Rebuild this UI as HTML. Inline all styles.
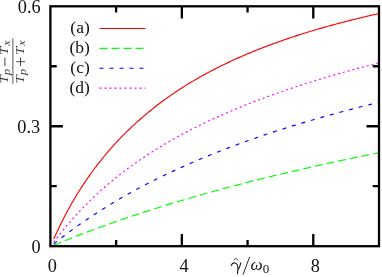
<!DOCTYPE html>
<html><head><meta charset="utf-8"><title>plot</title>
<style>
html,body{margin:0;padding:0;background:#fff;}
body{width:382px;height:277px;overflow:hidden;font-family:"Liberation Serif",serif;}
svg{display:block;will-change:transform;opacity:0.999;}
text{font-family:"Liberation Serif",serif;fill:#111;}
</style></head><body>
<svg width="382" height="277" viewBox="0 0 382 277">
<rect width="382" height="277" fill="#fff"/>
<g transform="translate(0,0.45)">
<path d="M53.72 238.57 L55.33 235.00 L56.97 231.43 L58.61 227.94 L60.26 224.52 L61.90 221.24 L63.54 218.03 L65.19 214.88 L66.83 211.79 L68.47 208.77 L70.12 205.80 L71.76 202.89 L73.40 200.03 L75.05 197.24 L76.69 194.53 L78.33 191.87 L79.97 189.27 L81.62 186.71 L83.26 184.20 L84.90 181.73 L86.55 179.31 L88.19 176.93 L89.83 174.60 L91.47 172.30 L93.12 170.05 L94.76 167.83 L96.40 165.65 L98.05 163.51 L99.69 161.41 L101.33 159.34 L102.98 157.30 L104.62 155.30 L106.26 153.33 L107.91 151.40 L109.55 149.49 L111.19 147.61 L112.83 145.77 L114.48 143.95 L116.12 142.16 L117.76 140.40 L119.41 138.66 L121.05 136.96 L122.69 135.27 L124.33 133.62 L125.98 131.98 L127.62 130.37 L129.26 128.79 L130.91 127.23 L132.55 125.69 L134.19 124.17 L135.84 122.68 L137.48 121.20 L139.12 119.75 L140.76 118.30 L142.41 116.87 L144.05 115.45 L145.69 114.06 L147.34 112.68 L148.98 111.32 L150.62 109.98 L152.27 108.66 L153.91 107.35 L155.55 106.07 L157.19 104.79 L158.84 103.54 L160.48 102.30 L162.12 101.07 L163.77 99.86 L165.41 98.67 L167.05 97.49 L168.70 96.33 L170.34 95.17 L171.98 94.04 L173.62 92.92 L175.27 91.81 L176.91 90.71 L178.55 89.63 L180.20 88.56 L181.84 87.50 L183.48 86.45 L185.13 85.42 L186.77 84.40 L188.41 83.39 L190.06 82.39 L191.70 81.40 L193.34 80.43 L194.98 79.46 L196.63 78.51 L198.27 77.57 L199.91 76.63 L201.56 75.71 L203.20 74.80 L204.84 73.89 L206.49 73.00 L208.13 72.12 L209.77 71.24 L211.41 70.38 L213.06 69.52 L214.70 68.67 L216.34 67.84 L217.99 67.01 L219.63 66.19 L221.27 65.37 L222.92 64.56 L224.56 63.77 L226.20 62.98 L227.84 62.19 L229.49 61.42 L231.13 60.65 L232.77 59.89 L234.42 59.14 L236.06 58.40 L237.70 57.66 L239.34 56.93 L240.99 56.21 L242.63 55.49 L244.27 54.78 L245.92 54.08 L247.56 53.38 L249.20 52.69 L250.85 52.01 L252.49 51.33 L254.13 50.66 L255.78 50.00 L257.42 49.34 L259.06 48.69 L260.70 48.04 L262.35 47.40 L263.99 46.77 L265.63 46.14 L267.28 45.51 L268.92 44.90 L270.56 44.28 L272.20 43.68 L273.85 43.07 L275.49 42.48 L277.13 41.89 L278.78 41.30 L280.42 40.72 L282.06 40.14 L283.71 39.57 L285.35 39.01 L286.99 38.44 L288.64 37.89 L290.28 37.34 L291.92 36.79 L293.56 36.24 L295.21 35.71 L296.85 35.17 L298.49 34.64 L300.14 34.12 L301.78 33.60 L303.42 33.08 L305.06 32.57 L306.71 32.06 L308.35 31.55 L309.99 31.05 L311.64 30.55 L313.28 30.06 L314.92 29.57 L316.57 29.09 L318.21 28.61 L319.85 28.13 L321.50 27.66 L323.14 27.18 L324.78 26.72 L326.42 26.26 L328.07 25.80 L329.71 25.34 L331.35 24.89 L333.00 24.44 L334.64 23.99 L336.28 23.55 L337.92 23.11 L339.57 22.67 L341.21 22.24 L342.85 21.81 L344.50 21.39 L346.14 20.96 L347.78 20.54 L349.43 20.12 L351.07 19.71 L352.71 19.30 L354.36 18.89 L356.00 18.49 L357.64 18.08 L359.28 17.68 L360.93 17.29 L362.57 16.89 L364.21 16.50 L365.86 16.11 L367.50 15.73 L369.14 15.34 L370.79 14.96 L372.43 14.59 L374.07 14.21 L375.71 13.84 L377.36 13.48 L379.00 13.11" fill="none" stroke="#ff0000" stroke-width="1.15"/>
<path d="M53.72 244.82 L55.33 244.15 L56.97 243.48 L58.61 242.81 L60.26 242.14 L61.90 241.47 L63.54 240.81 L65.19 240.14 L66.83 239.49 L68.47 238.83 L70.12 238.18 L71.76 237.52 L73.40 236.88 L75.05 236.23 L76.69 235.59 L78.33 234.95 L79.97 234.31 L81.62 233.68 L83.26 233.06 L84.90 232.44 L86.55 231.82 L88.19 231.20 L89.83 230.58 L91.47 229.97 L93.12 229.36 L94.76 228.75 L96.40 228.15 L98.05 227.55 L99.69 226.95 L101.33 226.35 L102.98 225.75 L104.62 225.16 L106.26 224.57 L107.91 223.98 L109.55 223.39 L111.19 222.81 L112.83 222.23 L114.48 221.65 L116.12 221.07 L117.76 220.50 L119.41 219.93 L121.05 219.36 L122.69 218.80 L124.33 218.24 L125.98 217.69 L127.62 217.13 L129.26 216.58 L130.91 216.03 L132.55 215.48 L134.19 214.94 L135.84 214.40 L137.48 213.85 L139.12 213.32 L140.76 212.78 L142.41 212.24 L144.05 211.71 L145.69 211.18 L147.34 210.65 L148.98 210.12 L150.62 209.60 L152.27 209.08 L153.91 208.56 L155.55 208.04 L157.19 207.52 L158.84 207.00 L160.48 206.49 L162.12 205.98 L163.77 205.47 L165.41 204.96 L167.05 204.46 L168.70 203.95 L170.34 203.45 L171.98 202.95 L173.62 202.45 L175.27 201.96 L176.91 201.46 L178.55 200.97 L180.20 200.48 L181.84 199.99 L183.48 199.50 L185.13 199.02 L186.77 198.53 L188.41 198.05 L190.06 197.57 L191.70 197.09 L193.34 196.62 L194.98 196.14 L196.63 195.67 L198.27 195.19 L199.91 194.72 L201.56 194.26 L203.20 193.80 L204.84 193.33 L206.49 192.87 L208.13 192.42 L209.77 191.96 L211.41 191.50 L213.06 191.05 L214.70 190.60 L216.34 190.15 L217.99 189.70 L219.63 189.25 L221.27 188.81 L222.92 188.36 L224.56 187.92 L226.20 187.48 L227.84 187.04 L229.49 186.60 L231.13 186.17 L232.77 185.73 L234.42 185.30 L236.06 184.87 L237.70 184.44 L239.34 184.01 L240.99 183.58 L242.63 183.16 L244.27 182.73 L245.92 182.31 L247.56 181.89 L249.20 181.47 L250.85 181.05 L252.49 180.63 L254.13 180.22 L255.78 179.80 L257.42 179.39 L259.06 178.98 L260.70 178.57 L262.35 178.16 L263.99 177.75 L265.63 177.35 L267.28 176.94 L268.92 176.54 L270.56 176.14 L272.20 175.73 L273.85 175.34 L275.49 174.94 L277.13 174.54 L278.78 174.15 L280.42 173.75 L282.06 173.36 L283.71 172.97 L285.35 172.58 L286.99 172.19 L288.64 171.80 L290.28 171.42 L291.92 171.03 L293.56 170.65 L295.21 170.27 L296.85 169.89 L298.49 169.51 L300.14 169.13 L301.78 168.75 L303.42 168.38 L305.06 168.00 L306.71 167.63 L308.35 167.26 L309.99 166.89 L311.64 166.52 L313.28 166.15 L314.92 165.78 L316.57 165.42 L318.21 165.05 L319.85 164.69 L321.50 164.33 L323.14 163.97 L324.78 163.61 L326.42 163.25 L328.07 162.89 L329.71 162.53 L331.35 162.18 L333.00 161.82 L334.64 161.47 L336.28 161.12 L337.92 160.77 L339.57 160.42 L341.21 160.07 L342.85 159.72 L344.50 159.38 L346.14 159.03 L347.78 158.69 L349.43 158.34 L351.07 158.00 L352.71 157.66 L354.36 157.32 L356.00 156.98 L357.64 156.64 L359.28 156.30 L360.93 155.97 L362.57 155.64 L364.21 155.31 L365.86 154.98 L367.50 154.65 L369.14 154.32 L370.79 154.00 L372.43 153.67 L374.07 153.35 L375.71 153.02 L377.36 152.70 L379.00 152.38" fill="none" stroke="#00ff00" stroke-width="1.15" stroke-dasharray="7.92 3.96" stroke-dashoffset="0"/>
<path d="M53.72 243.51 L55.33 242.22 L56.97 240.91 L58.61 239.62 L60.26 238.34 L61.90 237.07 L63.54 235.81 L65.19 234.56 L66.83 233.32 L68.47 232.09 L70.12 230.88 L71.76 229.67 L73.40 228.47 L75.05 227.29 L76.69 226.11 L78.33 224.94 L79.97 223.79 L81.62 222.64 L83.26 221.50 L84.90 220.37 L86.55 219.25 L88.19 218.14 L89.83 217.04 L91.47 215.94 L93.12 214.86 L94.76 213.78 L96.40 212.72 L98.05 211.66 L99.69 210.61 L101.33 209.56 L102.98 208.53 L104.62 207.50 L106.26 206.48 L107.91 205.47 L109.55 204.47 L111.19 203.47 L112.83 202.48 L114.48 201.50 L116.12 200.53 L117.76 199.56 L119.41 198.60 L121.05 197.65 L122.69 196.70 L124.33 195.76 L125.98 194.83 L127.62 193.91 L129.26 192.99 L130.91 192.08 L132.55 191.17 L134.19 190.27 L135.84 189.38 L137.48 188.49 L139.12 187.61 L140.76 186.74 L142.41 185.87 L144.05 185.01 L145.69 184.15 L147.34 183.30 L148.98 182.46 L150.62 181.62 L152.27 180.78 L153.91 179.96 L155.55 179.13 L157.19 178.32 L158.84 177.51 L160.48 176.70 L162.12 175.90 L163.77 175.10 L165.41 174.31 L167.05 173.53 L168.70 172.75 L170.34 171.97 L171.98 171.20 L173.62 170.44 L175.27 169.68 L176.91 168.92 L178.55 168.17 L180.20 167.43 L181.84 166.69 L183.48 165.95 L185.13 165.22 L186.77 164.49 L188.41 163.77 L190.06 163.05 L191.70 162.33 L193.34 161.62 L194.98 160.92 L196.63 160.22 L198.27 159.52 L199.91 158.83 L201.56 158.14 L203.20 157.45 L204.84 156.77 L206.49 156.10 L208.13 155.42 L209.77 154.76 L211.41 154.09 L213.06 153.43 L214.70 152.77 L216.34 152.12 L217.99 151.47 L219.63 150.82 L221.27 150.18 L222.92 149.54 L224.56 148.91 L226.20 148.28 L227.84 147.65 L229.49 147.03 L231.13 146.40 L232.77 145.79 L234.42 145.17 L236.06 144.56 L237.70 143.96 L239.34 143.35 L240.99 142.75 L242.63 142.15 L244.27 141.56 L245.92 140.97 L247.56 140.38 L249.20 139.80 L250.85 139.21 L252.49 138.64 L254.13 138.06 L255.78 137.49 L257.42 136.92 L259.06 136.35 L260.70 135.79 L262.35 135.23 L263.99 134.67 L265.63 134.12 L267.28 133.57 L268.92 133.02 L270.56 132.48 L272.20 131.94 L273.85 131.41 L275.49 130.87 L277.13 130.34 L278.78 129.81 L280.42 129.29 L282.06 128.76 L283.71 128.24 L285.35 127.72 L286.99 127.21 L288.64 126.70 L290.28 126.18 L291.92 125.68 L293.56 125.17 L295.21 124.67 L296.85 124.17 L298.49 123.67 L300.14 123.17 L301.78 122.68 L303.42 122.19 L305.06 121.70 L306.71 121.21 L308.35 120.73 L309.99 120.25 L311.64 119.77 L313.28 119.29 L314.92 118.82 L316.57 118.34 L318.21 117.87 L319.85 117.40 L321.50 116.94 L323.14 116.47 L324.78 116.01 L326.42 115.55 L328.07 115.09 L329.71 114.64 L331.35 114.18 L333.00 113.73 L334.64 113.28 L336.28 112.84 L337.92 112.39 L339.57 111.95 L341.21 111.50 L342.85 111.06 L344.50 110.63 L346.14 110.19 L347.78 109.76 L349.43 109.32 L351.07 108.89 L352.71 108.47 L354.36 108.04 L356.00 107.61 L357.64 107.19 L359.28 106.77 L360.93 106.35 L362.57 105.93 L364.21 105.52 L365.86 105.10 L367.50 104.69 L369.14 104.28 L370.79 103.87 L372.43 103.47 L374.07 103.06 L375.71 102.66 L377.36 102.26 L379.00 101.86" fill="none" stroke="#0000ff" stroke-width="1.15" stroke-dasharray="3.96 5.94" stroke-dashoffset="0"/>
<path d="M53.72 241.69 L55.33 239.55 L56.97 237.41 L58.61 235.29 L60.26 233.21 L61.90 231.16 L63.54 229.14 L65.19 227.15 L66.83 225.19 L68.47 223.25 L70.12 221.35 L71.76 219.47 L73.40 217.62 L75.05 215.80 L76.69 214.00 L78.33 212.22 L79.97 210.47 L81.62 208.74 L83.26 207.04 L84.90 205.36 L86.55 203.70 L88.19 202.07 L89.83 200.45 L91.47 198.86 L93.12 197.28 L94.76 195.73 L96.40 194.19 L98.05 192.68 L99.69 191.18 L101.33 189.70 L102.98 188.24 L104.62 186.80 L106.26 185.38 L107.91 183.97 L109.55 182.58 L111.19 181.20 L112.83 179.85 L114.48 178.50 L116.12 177.18 L117.76 175.86 L119.41 174.57 L121.05 173.28 L122.69 172.02 L124.33 170.76 L125.98 169.52 L127.62 168.29 L129.26 167.08 L130.91 165.88 L132.55 164.69 L134.19 163.52 L135.84 162.35 L137.48 161.20 L139.12 160.06 L140.76 158.94 L142.41 157.82 L144.05 156.72 L145.69 155.62 L147.34 154.54 L148.98 153.47 L150.62 152.41 L152.27 151.36 L153.91 150.32 L155.55 149.29 L157.19 148.27 L158.84 147.26 L160.48 146.26 L162.12 145.27 L163.77 144.28 L165.41 143.31 L167.05 142.35 L168.70 141.39 L170.34 140.45 L171.98 139.51 L173.62 138.58 L175.27 137.66 L176.91 136.75 L178.55 135.84 L180.20 134.95 L181.84 134.06 L183.48 133.17 L185.13 132.30 L186.77 131.43 L188.41 130.58 L190.06 129.72 L191.70 128.88 L193.34 128.04 L194.98 127.21 L196.63 126.39 L198.27 125.57 L199.91 124.76 L201.56 123.96 L203.20 123.16 L204.84 122.37 L206.49 121.58 L208.13 120.81 L209.77 120.03 L211.41 119.27 L213.06 118.51 L214.70 117.75 L216.34 117.00 L217.99 116.26 L219.63 115.52 L221.27 114.79 L222.92 114.06 L224.56 113.34 L226.20 112.63 L227.84 111.92 L229.49 111.21 L231.13 110.51 L232.77 109.82 L234.42 109.13 L236.06 108.44 L237.70 107.76 L239.34 107.08 L240.99 106.41 L242.63 105.75 L244.27 105.09 L245.92 104.43 L247.56 103.78 L249.20 103.13 L250.85 102.48 L252.49 101.84 L254.13 101.21 L255.78 100.58 L257.42 99.95 L259.06 99.33 L260.70 98.71 L262.35 98.09 L263.99 97.48 L265.63 96.88 L267.28 96.27 L268.92 95.67 L270.56 95.08 L272.20 94.49 L273.85 93.90 L275.49 93.31 L277.13 92.73 L278.78 92.16 L280.42 91.58 L282.06 91.01 L283.71 90.45 L285.35 89.88 L286.99 89.32 L288.64 88.77 L290.28 88.21 L291.92 87.66 L293.56 87.12 L295.21 86.57 L296.85 86.03 L298.49 85.49 L300.14 84.96 L301.78 84.43 L303.42 83.90 L305.06 83.37 L306.71 82.85 L308.35 82.33 L309.99 81.81 L311.64 81.30 L313.28 80.79 L314.92 80.28 L316.57 79.78 L318.21 79.27 L319.85 78.77 L321.50 78.28 L323.14 77.78 L324.78 77.29 L326.42 76.80 L328.07 76.31 L329.71 75.83 L331.35 75.34 L333.00 74.87 L334.64 74.39 L336.28 73.91 L337.92 73.44 L339.57 72.97 L341.21 72.50 L342.85 72.04 L344.50 71.58 L346.14 71.11 L347.78 70.66 L349.43 70.20 L351.07 69.75 L352.71 69.29 L354.36 68.84 L356.00 68.40 L357.64 67.95 L359.28 67.51 L360.93 67.07 L362.57 66.63 L364.21 66.19 L365.86 65.76 L367.50 65.32 L369.14 64.89 L370.79 64.46 L372.43 64.04 L374.07 63.61 L375.71 63.19 L377.36 62.77 L379.00 62.35" fill="none" stroke="#ff00ff" stroke-width="1.15" stroke-dasharray="1.982 2.968" stroke-dashoffset="0"/>
</g>
<g stroke="#000" stroke-width="2.3" fill="none">
<rect x="50.4" y="6.3" width="328.6" height="239.9"/>
<path d="M116.12 246.20 v-6.2 M116.12 6.30 v6.2"/>
<path d="M181.84 246.20 v-12.3 M181.84 6.30 v12.3"/>
<path d="M247.56 246.20 v-6.2 M247.56 6.30 v6.2"/>
<path d="M313.28 246.20 v-12.3 M313.28 6.30 v12.3"/>
<path d="M50.40 186.22 h6.3 M379.00 186.22 h-6.3"/>
<path d="M50.40 126.25 h12.5 M379.00 126.25 h-12.5"/>
<path d="M50.40 66.27 h6.3 M379.00 66.27 h-6.3"/>
</g>
<g font-size="18.3">
<text x="89.8" y="33.10" text-anchor="end" font-size="17.5">(a)</text>
<path d="M99.5 28.50 H145.5" stroke="#ff0000" stroke-width="1.15" fill="none"/>
<text x="89.8" y="52.95" text-anchor="end" font-size="17.5">(b)</text>
<path d="M99.5 48.35 H145.5" stroke="#00ff00" stroke-width="1.15" fill="none" stroke-dasharray="8 4"/>
<text x="89.8" y="72.80" text-anchor="end" font-size="17.5">(c)</text>
<path d="M99.5 68.20 H145.5" stroke="#0000ff" stroke-width="1.15" fill="none" stroke-dasharray="4 6"/>
<text x="89.8" y="92.65" text-anchor="end" font-size="17.5">(d)</text>
<path d="M99.5 88.05 H145.5" stroke="#ff00ff" stroke-width="1.15" fill="none" stroke-dasharray="2 3"/>
<text x="40.6" y="12.9" text-anchor="end">0.6</text>
<text x="40.1" y="132.7" text-anchor="end">0.3</text>
<text x="40.6" y="252.6" text-anchor="end">0</text>
<text x="52.4" y="272.4" text-anchor="middle">0</text>
<text x="184.1" y="272.4" text-anchor="middle">4</text>
<text x="315.3" y="272.4" text-anchor="middle">8</text>
</g>
<!-- x label -->
<g font-size="17.2" font-style="italic">
<path d="M231.3 265.6 C231.9 263.6 233.3 262.7 235 262.9 C237 263.2 238 266 237.9 269.5 L237.5 273.9 M240.8 262.8 C240.1 266 238.9 268.6 237.8 270.6" fill="none" stroke="#1a1a1a" stroke-width="1.05" stroke-linecap="round"/>
<path d="M233.6 260.4 L235.9 258.2 L238.3 260.4" fill="none" stroke="#222" stroke-width="0.8"/>
<path d="M243.0 274.6 L249.7 256.8" fill="none" stroke="#222" stroke-width="0.95"/>
<text x="250.4" y="270.3">ω</text>
<text x="262.7" y="273" font-style="normal" font-size="13">0</text>
</g>
<!-- y label -->
<g transform="translate(0,84) rotate(-90)" font-style="italic" fill="#111" opacity="0.85">
<path d="M0.3 12.9 H45.8" stroke="#222" stroke-width="0.9"/>
<text x="0.4" y="7.9" font-size="12.6" textLength="8.3" lengthAdjust="spacingAndGlyphs">T</text>
<text x="8.8" y="10.4" font-size="10" textLength="6.4" lengthAdjust="spacingAndGlyphs">p</text>
<path d="M18 4.9 H26.5" stroke="#111" stroke-width="0.9"/>
<text x="29.0" y="7.9" font-size="12.6" textLength="8.3" lengthAdjust="spacingAndGlyphs">T</text>
<text x="38.3" y="10" font-size="10" textLength="5.4" lengthAdjust="spacingAndGlyphs">x</text>
<text x="0.4" y="23.7" font-size="12.6" textLength="8.3" lengthAdjust="spacingAndGlyphs">T</text>
<text x="8.8" y="25.8" font-size="10" textLength="6.4" lengthAdjust="spacingAndGlyphs">p</text>
<path d="M18 20.5 H26.5 M22.3 16.2 V24.9" stroke="#111" stroke-width="0.9" fill="none"/>
<text x="29.0" y="23.7" font-size="12.6" textLength="8.3" lengthAdjust="spacingAndGlyphs">T</text>
<text x="38.3" y="25.4" font-size="10" textLength="5.4" lengthAdjust="spacingAndGlyphs">x</text>
</g>
</svg>
</body></html>
